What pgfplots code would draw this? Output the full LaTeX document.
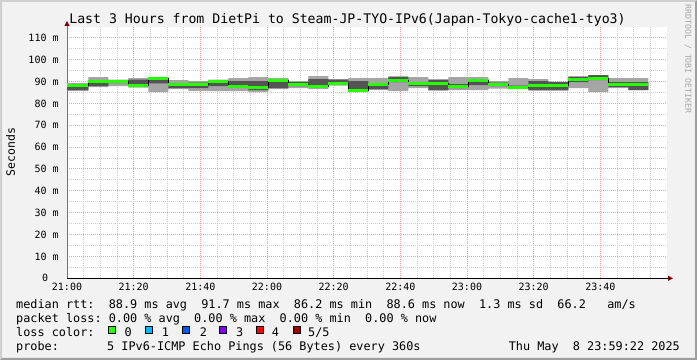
\documentclass[border=0pt]{standalone}
\usepackage{pgfplots}
\pgfplotsset{compat=1.18}
\usepgfplotslibrary{fillbetween}
\usetikzlibrary{arrows.meta}
\usepackage{pgfplotstable}
\usepackage{fontspec}
\setmainfont{DejaVu Sans Mono}
\setmonofont{DejaVu Sans Mono}
\definecolor{bgc}{RGB}{242,242,242}
\definecolor{shadeA}{RGB}{207,207,207}
\definecolor{shadeB}{RGB}{158,158,158}
\definecolor{gridmaj}{RGB}{240,160,160}
\definecolor{gridmin}{RGB}{205,205,205}
\definecolor{arrowc}{RGB}{127,0,0}
\definecolor{smokelight}{RGB}{165,165,165}
\definecolor{smokedark}{RGB}{84,84,84}
\definecolor{lc0}{RGB}{38,255,0}
\definecolor{lc1}{RGB}{0,184,255}
\definecolor{lc2}{RGB}{0,89,255}
\definecolor{lc3}{RGB}{126,0,255}
\definecolor{lc4}{RGB}{255,0,0}
\definecolor{lc5}{RGB}{161,0,0}

% t = minutes after 21:00; lu/ll = outer smoke (ms), du/dl = inner smoke (ms), m = median (ms)
\pgfplotstableread{
t      lu     ll     du     dl     m
0      89.30  85.87  88.84  85.96  88.16
6.4    92.04  87.47  90.44  87.93  89.99
12.4   90.90  87.93  90.44  89.30  89.99
18.4   91.59  87.24  90.90  88.38  88.38
24.4   92.04  85.19  91.81  89.17  91.36
30.4   90.67  86.56  89.30  87.01  88.84
36.4   90.21  85.64  89.53  87.01  88.84
42.4   90.90  85.64  90.67  87.93  90.21
48.4   91.59  85.64  90.21  87.70  87.93
54.4   92.04  85.19  90.21  86.10  87.24
60.4   91.59  86.56  91.13  87.01  90.67
66.4   90.21  87.01  89.76  87.93  88.61
72.4   92.50  86.56  91.13  87.47  87.93
78.4   91.13  88.16  90.90  89.00  89.30
84.4   91.59  85.19  90.21  85.41  86.10
90.4   91.59  86.10  89.30  86.56  88.84
96.4   92.27  85.64  92.27  89.76  90.67
102.4  92.04  87.01  89.76  87.93  89.07
108.4  91.13  85.87  90.67  86.10  89.07
114.4  92.04  86.10  88.84  87.01  87.70
120.4  92.04  86.10  91.13  88.38  90.44
126.4  90.21  86.79  89.53  87.93  88.61
132.4  91.59  86.56  88.16  87.01  87.24
138.4  91.13  85.87  90.21  86.10  88.38
144.4  89.99  85.87  89.76  86.10  88.16
150.4  92.50  87.01  92.04  89.76  90.90
156.4  92.96  85.19  92.96  90.67  91.59
162.4  91.59  87.01  89.76  87.47  88.84
168.4  91.59  86.10  89.76  86.10  88.61
174.4  91.59  86.10  89.76  86.10  88.61
}\smoke

\begin{document}%
\pagecolor{bgc}%
\frenchspacing%
\begin{tikzpicture}
\fill[shadeA] (0,0) -- (0,360bp) -- (697bp,360bp) -- (695bp,358bp) -- (2bp,358bp) -- (2bp,2bp) -- cycle;
\fill[shadeB] (0,0) -- (697bp,0) -- (697bp,360bp) -- (695bp,358bp) -- (695bp,2bp) -- (2bp,2bp) -- cycle;

\begin{axis}[
  at={(67bp,81.7bp)}, anchor=south west,
  scale only axis, width=600bp, height=250.8bp,
  xmin=0, xmax=180, ymin=0, ymax=114.7,
  axis lines=left,
  axis background/.style={fill=white},
  x axis line style={black, line width=1bp, -{Triangle[length=5bp,width=5bp,color=arrowc]}, shorten >=-6bp},
  y axis line style={black!55, line width=1bp, -{Triangle[length=5bp,width=5bp,color=arrowc]}, shorten >=-6.5bp},
  xtick={0,20,...,160},
  xticklabels={21:00,21:20,21:40,22:00,22:20,22:40,23:00,23:20,23:40},
  minor xtick={5,10,15,25,30,35,45,50,55,65,70,75,85,90,95,105,110,115,125,130,135,145,150,155,165,170,175},
  ytick={0,10,...,110},
  yticklabels={0\kern10.5bp,10 m,20 m,30 m,40 m,50 m,60 m,70 m,80 m,90 m,100 m,110 m},
  minor ytick={5,15,...,105},
  grid=both,
  major grid style={draw=gridmaj, dash pattern=on 1bp off 1bp, line width=1bp},
  minor grid style={draw=gridmin, dash pattern=on 1bp off 1bp, line width=1bp},
  major tick length=0pt, minor tick length=0pt,
  xticklabel style={font=\fontsize{10bp}{12bp}\selectfont, anchor=base, inner sep=0pt, yshift=-12.4bp},
  yticklabel style={font=\fontsize{10bp}{12bp}\selectfont, anchor=east, inner sep=0pt, xshift=-8.2bp},
]
\addplot[const plot, draw=none, name path=lu, forget plot] table[x=t,y=lu] {\smoke};
\addplot[const plot, draw=none, name path=ll, forget plot] table[x=t,y=ll] {\smoke};
\addplot[fill=smokelight, draw=none, forget plot] fill between[of=lu and ll];
\addplot[const plot, draw=none, name path=du, forget plot] table[x=t,y=du] {\smoke};
\addplot[const plot, draw=none, name path=dl, forget plot] table[x=t,y=dl] {\smoke};
\addplot[fill=smokedark, draw=none, forget plot] fill between[of=du and dl];
\addplot[const plot, black, line width=1bp, mark=none] table[x=t,y=m] {\smoke};
\addplot[jump mark left, lc0, line width=3bp, mark=none] table[x=t,y=m] {\smoke};
\end{axis}

% title, axis label, watermark
\node[anchor=base, inner sep=0pt, font=\fontsize{13.2bp}{15bp}\selectfont] at (347.5bp,336bp)
  {Last 3 Hours from DietPi to Steam-JP-TYO-IPv6(Japan-Tokyo-cache1-tyo3)};
\node[rotate=90, inner sep=0pt, font=\fontsize{11.5bp}{13bp}\selectfont] at (10.5bp,208bp) {Seconds};
\node[rotate=-90, inner sep=0pt, text=black!35, font=\fontsize{8.2bp}{10bp}\selectfont] at (688bp,301bp) {RRDTOOL / TOBI OETIKER};

% legend
\begin{scope}[every node/.style={anchor=base west, inner sep=0pt, font=\fontsize{11.83bp}{14bp}\selectfont}]
\node at (16bp,51.7bp) {median rtt:~~88.9 ms avg~~91.7 ms max~~86.2 ms min~~88.6 ms now~~1.3 ms sd~~66.2~~~am/s};
\node at (16bp,37.7bp) {packet loss: 0.00 \% avg~~0.00 \% max~~0.00 \% min~~0.00 \% now};
\node at (16bp,23.7bp) {loss color:};
\node at (124.3bp,23.7bp) {0};
\node at (161.7bp,23.7bp) {1};
\node at (199.7bp,23.7bp) {2};
\node at (236bp,23.7bp) {3};
\node at (271.7bp,23.7bp) {4};
\node at (308bp,23.7bp) {5/5};
\node at (16bp,9.7bp) {probe:};
\node at (107bp,9.7bp) {5 IPv6-ICMP Echo Pings (56 Bytes) every 360s};
\node[anchor=base east] at (680bp,9.7bp) {Thu May~~8 23:59:22 2025};
\end{scope}
\foreach \xx/\cc in {108.3/lc0,145.7/lc1,182.7/lc2,219.3/lc3,256.7/lc4,293.3/lc5}{
  \filldraw[fill=\cc, draw=black, line width=1bp] (\xx bp,26.5bp) rectangle ++(7bp,7bp);
}
\end{tikzpicture}%
\end{document}
